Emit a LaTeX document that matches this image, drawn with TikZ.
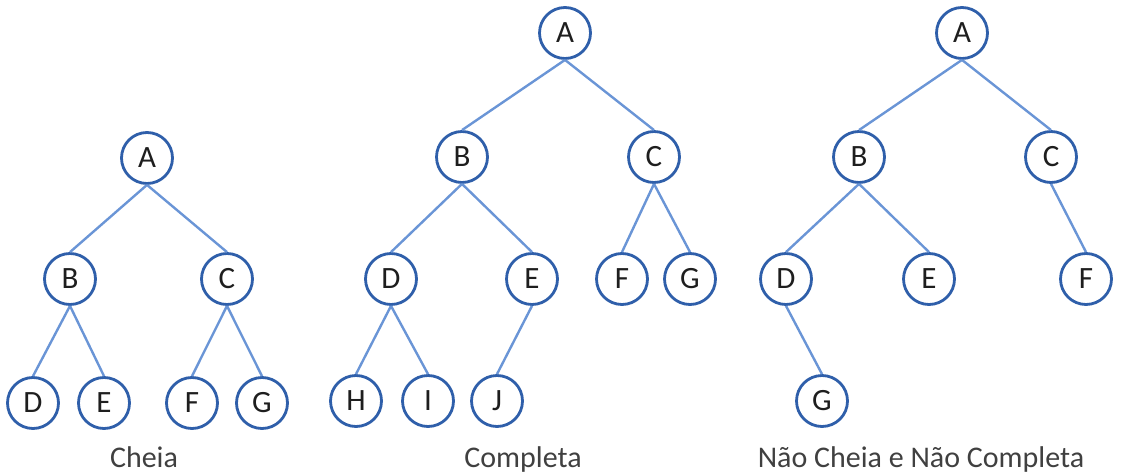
\documentclass[tikz,border=0pt]{standalone}
\usepackage{fontspec}
\setmainfont{Carlito}
\definecolor{nodeblue}{HTML}{2F5FAA}
\definecolor{edgeblue}{HTML}{6A95D6}
\definecolor{txt}{HTML}{1E1E1E}
\tikzset{
  tnode/.style={circle, draw=nodeblue, line width=2.8pt, fill=white, minimum size=51pt, inner sep=0pt, text=txt, font=\fontsize{31}{34}\selectfont},
  tedge/.style={draw=edgeblue, line width=2.4pt},
  tlabel/.style={text=txt!85, font=\fontsize{30}{33}\selectfont, inner sep=0pt, anchor=base}
}
\begin{document}
\begin{tikzpicture}[x=1pt,y=-1pt]
\useasboundingbox (0,0) rectangle (1121,476);
% Tree 1: Cheia
\node[tnode] (a1) at (147,158) {A};
\node[tnode] (b1) at (70,279) {B};
\node[tnode] (c1) at (227,279) {C};
\node[tnode] (d1) at (33,403) {D};
\node[tnode] (e1) at (104,403) {E};
\node[tnode] (f1) at (192,403) {F};
\node[tnode] (g1) at (262,403) {G};
\node[tlabel] (l1) at (144,467) {Cheia};
\foreach \p/\c in {a1/b1,a1/c1,b1/d1,b1/e1,c1/f1,c1/g1}
  \draw[tedge] (\p.south) -- (\c.north);
% Tree 2: Completa
\node[tnode] (a2) at (565,33) {A};
\node[tnode] (b2) at (462,157) {B};
\node[tnode] (c2) at (654,157) {C};
\node[tnode] (d2) at (391,279) {D};
\node[tnode] (e2) at (532,279) {E};
\node[tnode] (f2) at (622,279) {F};
\node[tnode] (g2) at (690,279) {G};
\node[tnode] (h2) at (356,401) {H};
\node[tnode] (i2) at (428,401) {I};
\node[tnode] (j2) at (497,401) {J};
\node[tlabel] (l2) at (523,467) {Completa};
\foreach \p/\c in {a2/b2,a2/c2,b2/d2,b2/e2,c2/f2,c2/g2,d2/h2,d2/i2,e2/j2}
  \draw[tedge] (\p.south) -- (\c.north);
% Tree 3: Nao Cheia e Nao Completa
\node[tnode] (a3) at (962,33) {A};
\node[tnode] (b3) at (859,157) {B};
\node[tnode] (c3) at (1051,157) {C};
\node[tnode] (d3) at (786,279) {D};
\node[tnode] (e3) at (929,279) {E};
\node[tnode] (f3) at (1086,279) {F};
\node[tnode] (g3) at (822,401) {G};
\node[tlabel] (l3) at (921,467) {Não Cheia e Não Completa};
\foreach \p/\c in {a3/b3,a3/c3,b3/d3,b3/e3,c3/f3,d3/g3}
  \draw[tedge] (\p.south) -- (\c.north);
\end{tikzpicture}
\end{document}
